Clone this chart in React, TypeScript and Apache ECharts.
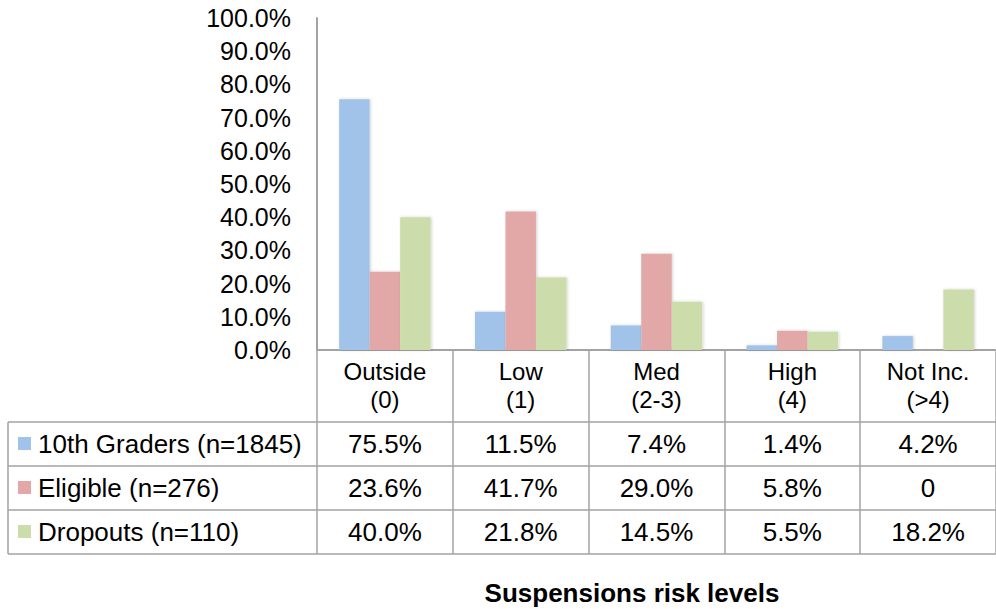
import React, { useEffect, useRef } from "react";
import * as echarts from "echarts";

const categories = ["Outside\n(0)", "Low\n(1)", "Med\n(2-3)", "High\n(4)", "Not Inc.\n(>4)"];
const seriesNames = ["10th Graders (n=1845)", "Eligible (n=276)", "Dropouts (n=110)"];
const gradersValues = [75.5, 11.5, 7.4, 1.4, 4.2];
const eligibleValues = [23.6, 41.7, 29.0, 5.8, 0];
const dropoutsValues = [40.0, 21.8, 14.5, 5.5, 18.2];
const colors = ["#A1C3E9", "#E2A8A7", "#CDDCAB"];
const xTitle = "Suspensions risk levels";

const FONT = "'Liberation Sans', Arial, Helvetica, sans-serif";
const GRAY = "#A3A3A3";
const FS = 26;

const fmt = (v: number) => (v === 0 ? "0" : v.toFixed(1) + "%");

export default function App() {
  const ref = useRef<HTMLDivElement>(null);
  useEffect(() => {
    document.body.style.margin = "0";
    const chart = echarts.init(ref.current!, undefined, { renderer: "svg" });
    const allValues = [gradersValues, eligibleValues, dropoutsValues];
    const rowCenters = [444, 488, 532];
    const axisY = 350;
    const rowLines = [422, 466, 510, 554];

    const valueAxes = allValues.map((vals, r) => ({
      type: "category",
      gridIndex: 0,
      position: "bottom",
      data: categories,
      axisLine: { show: false },
      axisTick: { show: false },
      splitLine: { show: false },
      axisLabel: {
        interval: 0,
        margin: rowCenters[r] - axisY,
        verticalAlign: "middle",
        fontSize: FS,
        fontFamily: FONT,
        color: "#000",
        formatter: (_: string, idx: number) => fmt(vals[idx]),
      },
    }));

    const graphics: any[] = [];
    rowLines.forEach((y) => {
      graphics.push({
        type: "line",
        shape: { x1: 8, y1: y, x2: 996, y2: y },
        style: { stroke: GRAY, lineWidth: 1.5 },
        silent: true,
      });
    });
    graphics.push({
      type: "line",
      shape: { x1: 8, y1: rowLines[0], x2: 8, y2: rowLines[3] },
      style: { stroke: GRAY, lineWidth: 1.5 },
      silent: true,
    });
    seriesNames.forEach((name, i) => {
      graphics.push({
        type: "rect",
        shape: { x: 18, y: rowCenters[i] - 7, width: 13, height: 13 },
        style: { fill: colors[i] },
        silent: true,
      });
      graphics.push({
        type: "text",
        x: 38,
        y: rowCenters[i],
        style: {
          text: name,
          fontSize: FS,
          fontFamily: FONT,
          fill: "#000",
          verticalAlign: "middle",
          align: "left",
        },
        silent: true,
      });
    });
    graphics.push({
      type: "text",
      x: 632,
      y: 593,
      style: {
        text: xTitle,
        fontSize: FS,
        fontWeight: "bold",
        fontFamily: FONT,
        fill: "#000",
        align: "center",
        verticalAlign: "middle",
      },
      silent: true,
    });

    chart.setOption({
      animation: false,
      grid: { left: 317, top: 18, width: 690, height: 332, containLabel: false },
      xAxis: [
        {
          type: "category",
          data: categories,
          position: "bottom",
          axisLine: { show: true, lineStyle: { color: GRAY, width: 2 } },
          axisTick: {
            show: true,
            interval: 0,
            length: rowLines[3] - axisY,
            lineStyle: { color: GRAY, width: 1.5 },
          },
          axisLabel: {
            interval: 0,
            margin: 35,
            verticalAlign: "middle",
            fontSize: 24,
            lineHeight: 28,
            fontFamily: FONT,
            color: "#000",
          },
        },
        ...valueAxes,
      ],
      yAxis: {
        type: "value",
        min: 0,
        max: 100,
        interval: 10,
        axisLine: { show: true, lineStyle: { color: GRAY, width: 2 } },
        axisTick: { show: false },
        splitLine: { show: false },
        axisLabel: {
          margin: 26,
          fontSize: 25,
          fontFamily: FONT,
          color: "#000",
          formatter: (v: number) => v.toFixed(1) + "%",
        },
      },
      series: allValues.map((vals, i) => ({
        type: "bar",
        name: seriesNames[i],
        xAxisIndex: 0,
        data: vals,
        barGap: "0%",
        barCategoryGap: "32.6%",
        itemStyle: {
          color: colors[i],
          shadowBlur: 3,
          shadowColor: "rgba(0,0,0,0.18)",
          shadowOffsetX: 1,
          shadowOffsetY: 0,
        },
      })),
      graphic: graphics,
    });
    return () => chart.dispose();
  }, []);
  return <div ref={ref} style={{ width: 996, height: 609 }} />;
}
